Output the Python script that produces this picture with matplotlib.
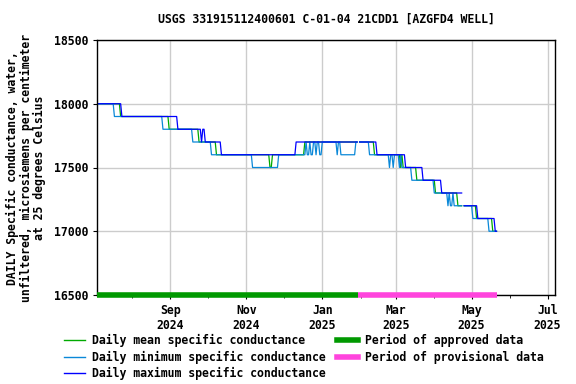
import matplotlib
matplotlib.use("Agg")
import matplotlib.pyplot as plt
import matplotlib.dates as mdates
from matplotlib.lines import Line2D
import pandas as pd
import numpy as np

plt.rcParams['font.family'] = ['DejaVu Sans Mono']
plt.rcParams['font.weight'] = 'bold'
FS = 8.3

title = "USGS 331915112400601 C-01-04 21CDD1 [AZGFD4 WELL]"
ylabel = "DAILY Specific conductance, water,\nunfiltered, microsiemens per centimeter\nat 25 degrees Celsius"

start_date = "2024-07-04"
end_date = "2025-05-21"
missing_days = ["2025-01-30", "2025-04-24"]
approved_end = "2025-01-30"

# change points (date, value from that date on)
max_dates = ["2024-07-04", "2024-07-24", "2024-09-07", "2024-09-26", "2024-09-27", "2024-09-29",
             "2024-10-12", "2024-12-11", "2025-02-14", "2025-03-09", "2025-03-23", "2025-04-07",
             "2025-04-25", "2025-05-06", "2025-05-20"]
max_vals = [18000, 17900, 17800, 17700, 17800, 17700,
            17600, 17700, 17600, 17500, 17400, 17300,
            17200, 17100, 17000]

mean_dates = ["2024-07-04", "2024-07-23", "2024-08-31", "2024-09-24", "2024-10-08", "2024-11-20",
              "2024-11-22", "2024-12-18", "2025-02-12", "2025-03-05", "2025-03-06", "2025-03-07",
              "2025-03-18", "2025-04-02", "2025-04-20", "2025-05-05", "2025-05-18"]
mean_vals = [18000, 17900, 17800, 17700, 17600, 17500,
             17600, 17700, 17600, 17500, 17600, 17500,
             17400, 17300, 17200, 17100, 17000]

min_dates = ["2024-07-04", "2024-07-18", "2024-08-26", "2024-09-19", "2024-10-04", "2024-11-06",
             "2024-11-27", "2024-12-19", "2024-12-20", "2024-12-22", "2024-12-23", "2024-12-25",
             "2024-12-27", "2024-12-28", "2024-12-30", "2025-01-01", "2025-01-13", "2025-01-14",
             "2025-01-16", "2025-01-28", "2025-02-08", "2025-02-09", "2025-02-24", "2025-02-25",
             "2025-02-27", "2025-02-28", "2025-03-04", "2025-03-05", "2025-03-06", "2025-03-14",
             "2025-04-01", "2025-04-12", "2025-04-13", "2025-04-14", "2025-04-16", "2025-04-17",
             "2025-05-02", "2025-05-15"]
min_vals = [18000, 17900, 17800, 17700, 17600, 17500,
            17600, 17700, 17600, 17700, 17600, 17700,
            17600, 17700, 17600, 17700, 17600, 17700,
            17600, 17700, 17600, 17600, 17500, 17600,
            17500, 17600, 17500, 17600, 17500, 17400,
            17300, 17200, 17300, 17200, 17300, 17200,
            17100, 17000]

yticks = [16500, 17000, 17500, 18000, 18500]
xtick_dates = ["2024-09-01", "2024-11-01", "2025-01-01", "2025-03-01", "2025-05-01", "2025-07-01"]
xtick_labels = ["Sep\n2024", "Nov\n2024", "Jan\n2025", "Mar\n2025", "May\n2025", "Jul\n2025"]

days = pd.date_range(start_date, end_date, freq="D")


def expand(dates, vals):
    s = pd.Series(vals, index=pd.to_datetime(dates), dtype=float)
    s = s[~s.index.duplicated(keep="last")]
    s = s.reindex(days).ffill()
    s[pd.to_datetime(missing_days)] = np.nan
    return s


mean_s = expand(mean_dates, mean_vals)
min_s = expand(min_dates, min_vals)
max_s = expand(max_dates, max_vals)

c_mean = "#00aa00"
c_min = "#0a88d8"
c_max = "#0000ff"
c_appr = "#009900"
c_prov = "#ff44dd"

fig = plt.figure(figsize=(5.76, 3.84), dpi=100)
ax = fig.add_axes([97/576, 1-295/384, (555-97)/576, (295-40)/384])

ax.plot(mean_s.index, mean_s.values, color=c_mean, lw=0.9)
ax.plot(min_s.index, min_s.values, color=c_min, lw=0.9)
ax.plot(max_s.index, max_s.values, color=c_max, lw=0.9)

ax.plot([pd.Timestamp(start_date), pd.Timestamp(approved_end)], [16500, 16500],
        color=c_appr, lw=4, solid_capstyle="butt", clip_on=False, zorder=5)
ax.plot([pd.Timestamp(approved_end), pd.Timestamp(end_date)], [16500, 16500],
        color=c_prov, lw=4, solid_capstyle="butt", clip_on=False, zorder=5)

ax.set_xlim(pd.Timestamp("2024-07-04"), pd.Timestamp("2025-07-07"))
ax.set_ylim(16500, 18500)
ax.set_yticks(yticks)
ax.set_yticklabels([str(v) for v in yticks], fontsize=FS, fontweight="bold")
ax.set_xticks(pd.to_datetime(xtick_dates))
ax.set_xticklabels(xtick_labels, fontsize=FS, fontweight="bold")
ax.xaxis.set_minor_locator(mdates.MonthLocator())
ax.tick_params(axis="both", which="major", length=3, width=0.8, direction="out")
ax.tick_params(axis="x", which="minor", length=2, width=0.6)
ax.grid(True, which="major", color="#cccccc", lw=1)
ax.set_axisbelow(True)
for sp in ax.spines.values():
    sp.set_linewidth(1)
    sp.set_color("black")

fig.text(326/576, 1-19/384, title, ha="center", va="center", fontsize=FS, fontweight="bold")
fig.text(26/576, 1-168/384, ylabel, ha="center", va="center", rotation=90,
         fontsize=FS, fontweight="bold", linespacing=1.0)

handles = [
    Line2D([], [], color=c_mean, lw=1),
    Line2D([], [], color=c_min, lw=1),
    Line2D([], [], color=c_max, lw=1),
    Line2D([], [], color=c_appr, lw=4),
    Line2D([], [], color=c_prov, lw=4),
]
labels = ["Daily mean specific conductance", "Daily minimum specific conductance",
          "Daily maximum specific conductance", "Period of approved data",
          "Period of provisional data"]
fig.legend(handles, labels, loc="upper left", bbox_to_anchor=(64/576, 1-334/384), ncol=2,
           frameon=False, fontsize=FS, handlelength=1.8, handletextpad=0.6,
           columnspacing=1.0, labelspacing=0.3, borderpad=0, borderaxespad=0)

fig.savefig("out.png", dpi=100)
